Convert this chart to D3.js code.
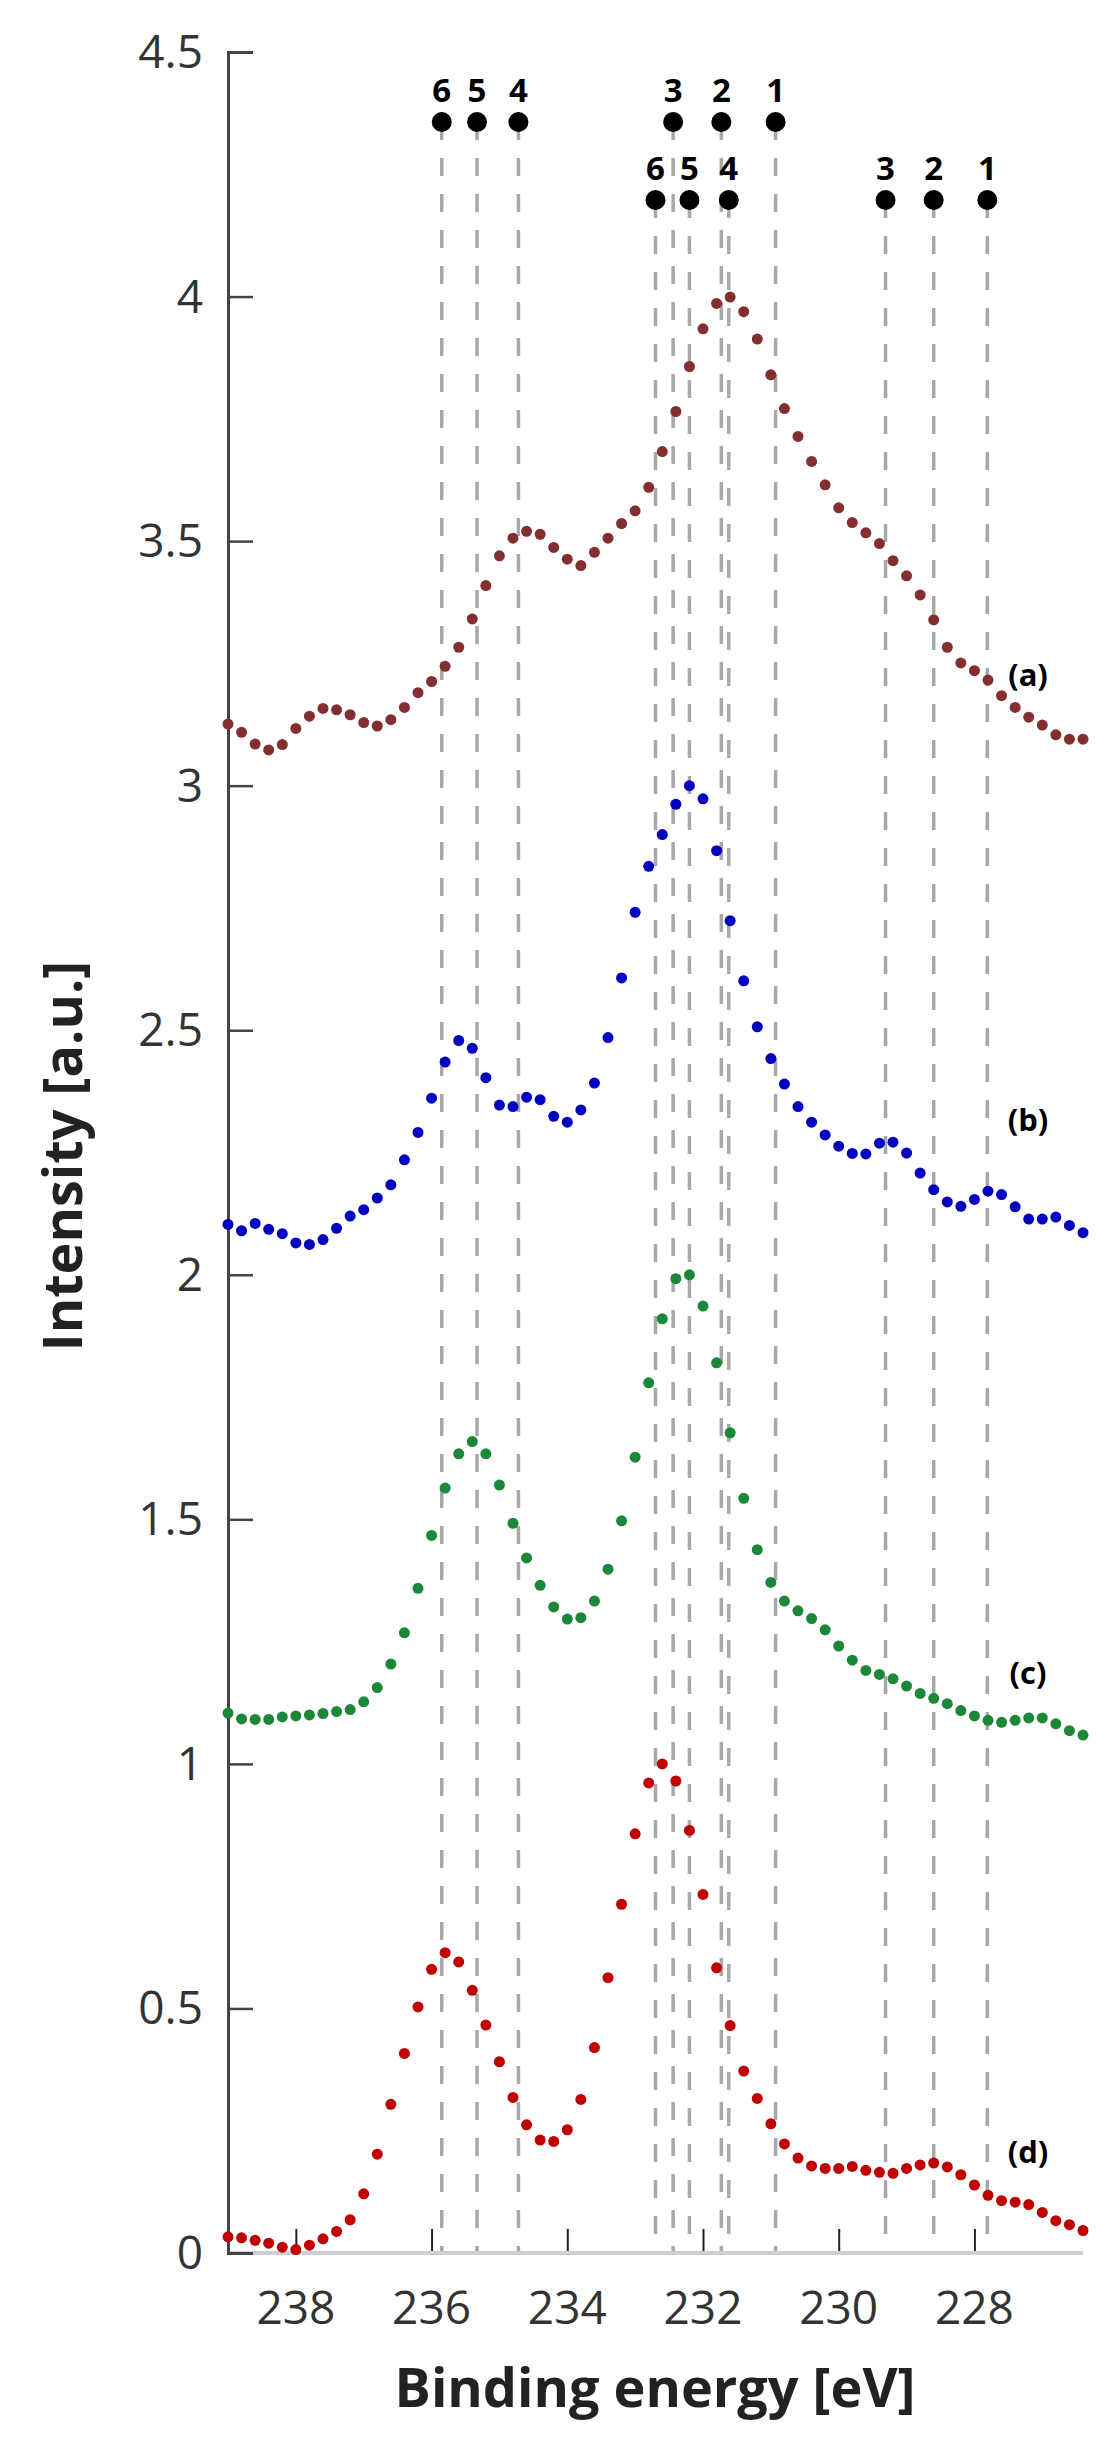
<!DOCTYPE html>
<html>
<head>
<meta charset="utf-8">
<script src="https://cdn.jsdelivr.net/npm/d3@7"></script>
<style>
  body { margin: 0; background: #fff; }
  svg text { font-family: "Open Sans", sans-serif; }
</style>
</head>
<body>
<div id="chart"></div>
<script>
// binding energy grid, 239.0 down to 226.4 eV in 0.2 eV steps
const energies = d3.range(0, 64).map(i => +(239 - i * 0.2).toFixed(1));

const seriesA = [3.126,3.109,3.085,3.073,3.084,3.117,3.142,3.158,3.155,3.145,3.129,3.122,3.135,3.160,3.190,3.213,3.244,3.283,3.341,3.409,3.470,3.506,3.520,3.514,3.487,3.463,3.450,3.477,3.506,3.536,3.562,3.610,3.683,3.765,3.857,3.934,3.986,3.999,
  3.969,3.913,3.840,3.771,3.714,3.663,3.615,3.568,3.538,3.517,3.495,3.460,3.429,3.390,3.339,3.283,3.251,3.235,3.216,3.184,3.160,3.140,3.124,3.104,3.095,3.095];
const seriesB = [2.103,2.090,2.105,2.093,2.084,2.065,2.062,2.072,2.095,2.120,2.133,2.157,2.184,2.235,2.291,2.361,2.435,2.479,2.463,2.403,2.347,2.344,2.363,2.358,2.324,2.312,2.337,2.392,2.485,2.607,2.741,2.835,2.900,2.962,3.000,2.973,
  2.867,2.724,2.601,2.507,2.442,2.390,2.344,2.312,2.286,2.263,2.248,2.247,2.269,2.271,2.249,2.208,2.174,2.149,2.140,2.154,2.171,2.164,2.139,2.114,2.114,2.118,2.101,2.086];
const seriesC = [1.104,1.092,1.091,1.091,1.096,1.098,1.100,1.103,1.107,1.111,1.127,1.156,1.204,1.268,1.359,1.467,1.564,1.634,1.659,1.634,1.570,1.492,1.421,1.365,1.321,1.296,1.299,1.333,1.398,1.497,1.627,1.779,1.910,1.992,2.000,1.936,1.820,1.677,
  1.543,1.438,1.371,1.333,1.313,1.297,1.274,1.241,1.212,1.191,1.183,1.174,1.159,1.144,1.134,1.123,1.109,1.098,1.089,1.085,1.089,1.094,1.094,1.082,1.068,1.059];
const seriesD = [0.033,0.031,0.026,0.020,0.012,0.007,0.016,0.029,0.044,0.068,0.121,0.202,0.304,0.408,0.503,0.580,0.614,0.595,0.537,0.466,0.391,0.318,0.262,0.231,0.228,0.252,0.314,0.420,0.563,0.713,0.857,0.961,1.000,0.965,0.864,0.733,0.583,0.465,
  0.372,0.316,0.264,0.223,0.194,0.178,0.173,0.173,0.177,0.169,0.165,0.163,0.173,0.180,0.184,0.176,0.160,0.139,0.118,0.107,0.104,0.099,0.083,0.066,0.058,0.046];

const seriesNames = ["(a)", "(b)", "(c)", "(d)"];
const seriesColors = ["#832f2f", "#0000bf", "#1b8738", "#c00000"];
const labelValues = [3.22, 2.31, 1.18, 0.2];

// reference peak positions: top row and lower row
const markersTop = [235.85, 235.33, 234.72, 232.44, 231.73, 230.93];
const markersTopLabels = ["6", "5", "4", "3", "2", "1"];
const markersLow = [232.70, 232.20, 231.62, 229.31, 228.60, 227.81];
const markersLowLabels = ["6", "5", "4", "3", "2", "1"];

const xTicks = [238, 236, 234, 232, 230, 228];
const yTicks = [0, 0.5, 1, 1.5, 2, 2.5, 3, 3.5, 4, 4.5];

const width = 1111, height = 2442;
const svg = d3.select("#chart").append("svg")
  .attr("width", width).attr("height", height);

const x = d3.scaleLinear().domain([239, 226.4]).range([228, 1083]);
const y = d3.scaleLinear().domain([0, 4.5]).range([2253, 52]);

// dashed reference lines
const yTopMark = 122, yLowMark = 200;
function drawMarkers(vals, labels, ym) {
  const g = svg.append("g");
  g.selectAll("line").data(vals).enter().append("line")
    .attr("x1", d => x(d)).attr("x2", d => x(d))
    .attr("y1", ym).attr("y2", y(0))
    .attr("stroke", "#a8a8a8").attr("stroke-width", 3.5)
    .attr("stroke-dasharray", "18,18");
  g.selectAll("circle").data(vals).enter().append("circle")
    .attr("cx", d => x(d)).attr("cy", ym).attr("r", 10).attr("fill", "#000");
  g.selectAll("text").data(vals).enter().append("text")
    .attr("x", d => x(d)).attr("y", ym - 20)
    .attr("text-anchor", "middle")
    .style("font-size", "33px").style("font-weight", "bold")
    .text((d, i) => labels[i]);
}
drawMarkers(markersTop, markersTopLabels, yTopMark);
drawMarkers(markersLow, markersLowLabels, yLowMark);

// x axis baseline
svg.append("line")
  .attr("x1", x(239)).attr("x2", x(226.4)).attr("y1", y(0)).attr("y2", y(0))
  .attr("stroke", "#cfcfcf").attr("stroke-width", 4);

const xAxis = d3.axisTop(x).tickValues(xTicks).tickSize(22).tickFormat("");
svg.append("g").attr("transform", `translate(0,${y(0) - 2})`).call(xAxis)
  .call(g => g.select(".domain").remove())
  .call(g => g.selectAll("line").attr("stroke", "#222").attr("stroke-width", 2));

svg.append("g").selectAll("text").data(xTicks).enter().append("text")
  .attr("x", d => x(d)).attr("y", 2324)
  .attr("text-anchor", "middle")
  .attr("fill", "#333")
  .style("font-size", "46px")
  .text(d => d);

// y axis
const yAxis = d3.axisRight(y).tickValues(yTicks).tickSize(25).tickFormat("");
svg.append("g").attr("transform", `translate(${x(239)},0)`).call(yAxis)
  .call(g => g.select(".domain").attr("stroke", "#444").attr("stroke-width", 3))
  .call(g => g.selectAll("line").attr("stroke", "#444").attr("stroke-width", 2.5));

svg.append("g").selectAll("text").data(yTicks).enter().append("text")
  .attr("x", 203).attr("y", d => y(d) + 16)
  .attr("text-anchor", "end")
  .attr("fill", "#333")
  .style("font-size", "46px")
  .text(d => d);

// series
const allSeries = [seriesA, seriesB, seriesC, seriesD];
allSeries.forEach((vals, si) => {
  svg.append("g").selectAll("circle").data(vals).enter().append("circle")
    .attr("cx", (d, i) => x(energies[i]))
    .attr("cy", d => y(d))
    .attr("r", 5.5)
    .attr("fill", seriesColors[si]);
  svg.append("text")
    .attr("x", 1028).attr("y", y(labelValues[si]))
    .attr("text-anchor", "middle").attr("dominant-baseline", "middle")
    .style("font-size", "31px").style("font-weight", "bold")
    .text(seriesNames[si]);
});

// axis titles
svg.append("text")
  .attr("x", 655).attr("y", 2407)
  .attr("text-anchor", "middle")
  .attr("fill", "#222")
  .style("font-size", "54px").style("font-weight", "bold")
  .text("Binding energy [eV]");

svg.append("text")
  .attr("transform", "translate(82,1156) rotate(-90)")
  .attr("text-anchor", "middle")
  .attr("fill", "#222")
  .style("font-size", "54px").style("font-weight", "bold")
  .text("Intensity [a.u.]");
</script>
</body>
</html>
